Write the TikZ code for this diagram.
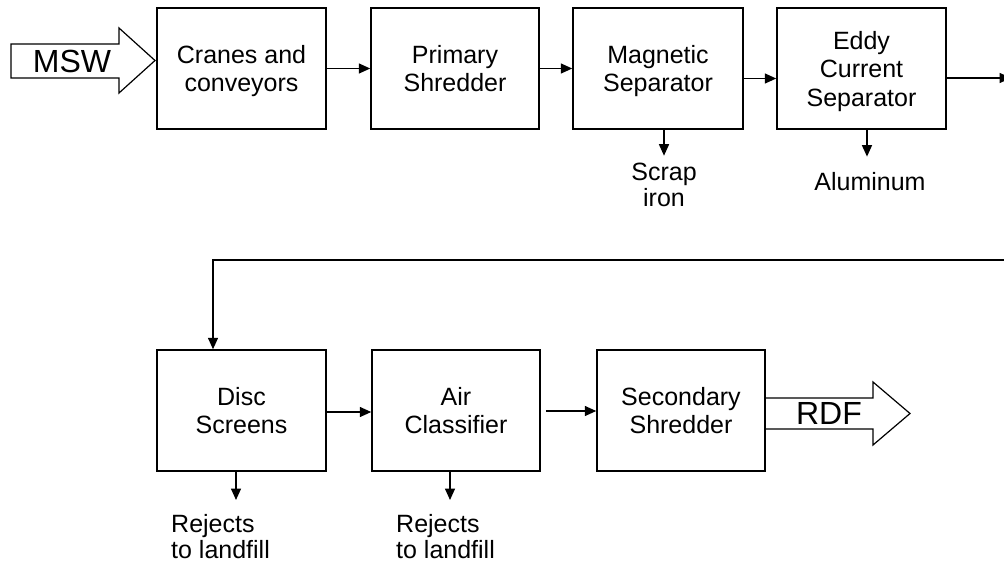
\documentclass[tikz,border=0pt]{standalone}
\usepackage{fontspec}
\setmainfont{Liberation Sans}
\usetikzlibrary{arrows.meta}
\tikzset{
  procbox/.style={draw, line width=1.5pt, minimum width=169pt, minimum height=121pt,
    inner sep=0pt, align=center, text depth=0pt, font=\fontsize{25}{28}\selectfont},
  lbl/.style={inner sep=0pt, font=\fontsize{25}{26.5}\selectfont},
  bigtxt/.style={inner sep=0pt, font=\fontsize{32}{34}\selectfont},
  conn/.style={line width=1.5pt, -{Triangle[length=11.5pt,width=10pt]}},
  fatarrow/.style={line width=1.2pt, line join=miter}
}
\begin{document}
\begin{tikzpicture}[x=1pt,y=-1pt]
\useasboundingbox (0,0) rectangle (1004,562);
\clip (0,0) rectangle (1004,562);
% boxes
\node[procbox] (cranes) at (241.5,68.5) {Cranes and\\conveyors};
\node[procbox, minimum width=168pt] (primary) at (455,68.5) {Primary\\Shredder};
\node[procbox, minimum width=170pt] (magnetic) at (658,68.5) {Magnetic\\Separator};
\node[procbox, font=\fontsize{25}{28.5}\selectfont] (eddy) at (861.5,68.5) {Eddy\\Current\\Separator};
\node[procbox] (disc) at (241.5,410.5) {Disc\\Screens};
\node[procbox, minimum width=168pt] (air) at (456,410.5) {Air\\Classifier};
\node[procbox, minimum width=168pt] (secondary) at (681,410.5) {Secondary\\Shredder};
% labels
\node[lbl, align=center] (scrap) at (664,185) {Scrap\\iron};
\node[lbl] (alu) at (870,182) {Aluminum};
\node[lbl, align=left, anchor=west] (rej1) at (171,536.5) {Rejects\\to landfill};
\node[lbl, align=left, anchor=west] (rej2) at (396,536.5) {Rejects\\to landfill};
% big arrows
\draw[fatarrow] (11,44) -- (119,44) -- (119,28) -- (155,60.5) -- (119,93) -- (119,78) -- (11,78) -- cycle;
\node[bigtxt] (msw) at (72,61) {MSW};
\draw[fatarrow] (secondary.east |- 0,398) -- (873,398) -- (873,382) -- (910,413.5) -- (873,445) -- (873,429) -- (secondary.east |- 0,429);
\node[bigtxt] (rdf) at (829,413) {RDF};
% connectors
\draw[conn] (cranes.east) -- (primary.west);
\draw[conn] (primary.east) -- (magnetic.west);
\draw[conn] ([yshift=-10pt]magnetic.east) -- ([yshift=-10pt]eddy.west);
\coordinate (edgeA) at (1011,78);
\coordinate (edgeB) at (1011,260);
\draw[conn] ([yshift=-9.5pt]eddy.east) -- (edgeA);
\draw[conn] (edgeA) -- (edgeB) -| ([xshift=-28.5pt]disc.north);
\draw[conn] ([yshift=-1.5pt]disc.east) -- ([yshift=-1.5pt]air.west);
\draw[conn] ([xshift=5pt,yshift=-0.5pt]air.east) -- ([yshift=-0.5pt]secondary.west);
\draw[conn] ([xshift=6pt]magnetic.south) -- ([yshift=7pt]scrap.north);
\draw[conn] ([xshift=5.5pt]eddy.south) -- ([xshift=-3pt,yshift=16pt]alu.north);
\coordinate (r1) at (236,500);
\coordinate (r2) at (450,500);
\draw[conn] (disc.south -| r1) -- (r1);
\draw[conn] (air.south -| r2) -- (r2);
\end{tikzpicture}
\end{document}
